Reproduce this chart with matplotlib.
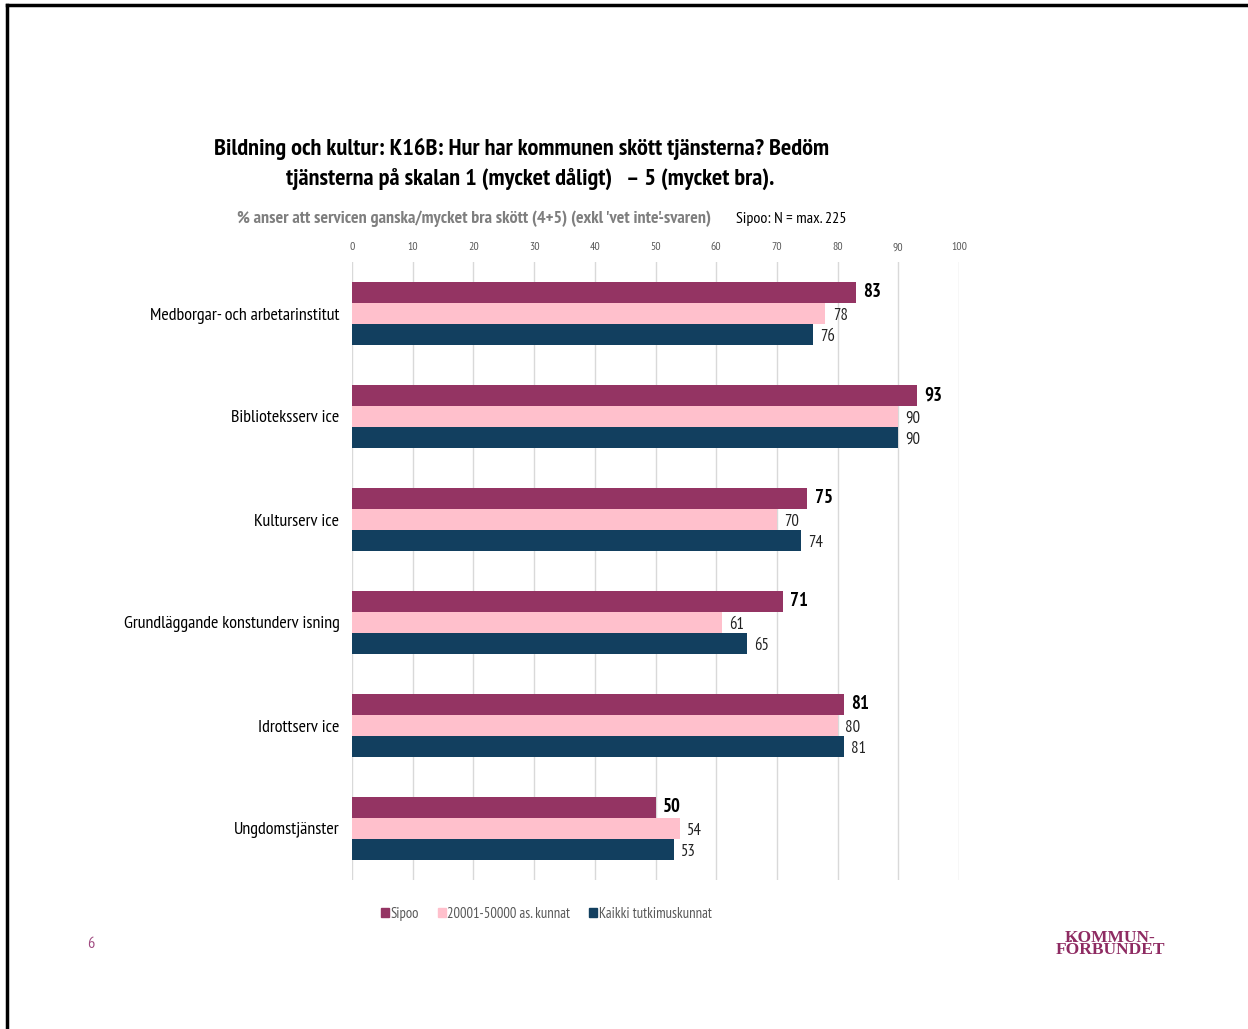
import matplotlib
matplotlib.use("Agg")
import matplotlib.pyplot as plt
from matplotlib.lines import Line2D
from matplotlib.patches import Rectangle
import numpy as np

plt.rcParams['font.family'] = ['PT Sans Narrow', 'DejaVu Sans']

categories = ["Medborgar- och arbetarinstitut", "Biblioteksserv ice", "Kulturserv ice",
              "Grundläggande konstunderv isning", "Idrottserv ice", "Ungdomstjänster"]
series_names = ["Sipoo", "20001-50000 as. kunnat", "Kaikki tutkimuskunnat"]
sipoo = [83, 93, 75, 71, 81, 50]
group = [78, 90, 70, 61, 80, 54]
kaikki = [76, 90, 74, 65, 81, 53]
ticks = [0, 10, 20, 30, 40, 50, 60, 70, 80, 90, 100]
colors = ["#943463", "#FFC0CC", "#123F5F"]

W, H = 1248, 1029
fig = plt.figure(figsize=(W / 100, H / 100), dpi=100)

# axes: x 352..959 px, y 262..880 px
ax = fig.add_axes([352 / W, 1 - 880 / H, (959 - 352) / W, (880 - 262) / H])
n = len(categories)
y = np.arange(n)
bh = 0.205
offs = [-bh, 0, bh]
data = [sipoo, group, kaikki]
for k, (vals, col) in enumerate(zip(data, colors)):
    ax.barh(y + offs[k], vals, height=bh, color=col, zorder=2,
            label=series_names[k])
    for yi, v in zip(y, vals):
        if k == 0:
            ax.text(v + 1.2, yi + offs[k], str(v), va='center', ha='left',
                    fontsize=13.5, fontweight='bold', color='black')
        else:
            ax.text(v + 1.2, yi + offs[k] + 0.02, str(v), va='center', ha='left',
                    fontsize=12, color='#222222')

ax.set_xlim(0, 100)
ax.set_ylim(n - 0.5, -0.5)
ax.set_xticks(ticks)
ax.xaxis.tick_top()
ax.tick_params(axis='x', length=0, labelsize=8.5, labelcolor='#595959', pad=7)
ax.set_yticks(y)
ax.set_yticklabels(categories, fontsize=13, color='black')
ax.tick_params(axis='y', length=0, pad=9)
ax.grid(axis='x', color='#D9D9D9', linewidth=1, zorder=0)
for s in ax.spines.values():
    s.set_visible(False)

# Title
fig.text(522 / W, 1 - 149 / H, "Bildning och kultur: K16B: Hur har kommunen skött tjänsterna? Bedöm",
         ha='center', va='center', fontsize=17.6, fontweight='bold')
fig.text(530 / W, 1 - 180 / H, "tjänsterna på skalan 1 (mycket dåligt)   – 5 (mycket bra).",
         ha='center', va='center', fontsize=17.6, fontweight='bold')

# subtitle
fig.text(237 / W, 1 - 219 / H, "% anser att servicen ganska/mycket bra skött (4+5) (exkl 'vet inte'-svaren)",
         ha='left', va='center', fontsize=13, fontweight='bold', color='#7F7F7F')
fig.text(736 / W, 1 - 219 / H, "Sipoo: N = max. 225",
         ha='left', va='center', fontsize=11.5, color='black')

# legend
handles = [Rectangle((0, 0), 1, 1, color=c) for c in colors]
fig.legend(handles, series_names, loc='center left', bbox_to_anchor=(368 / W, 1 - 914 / H),
           ncol=3, frameon=False, fontsize=10.5, handlelength=0.55, handleheight=0.55,
           handletextpad=0.1, columnspacing=1.3, labelcolor='#595959')

# page number and logo
fig.text(91 / W, 1 - 944 / H, "6", ha='center', va='center', fontsize=11.5, color='#A04A80')
fig.text(1110 / W, 1 - 944 / H, "KOMMUN-\nFÖRBUNDET", ha='center', va='center',
         fontsize=12.5, color='#8E2B62', family=['Liberation Serif', 'DejaVu Serif'],
         fontweight='bold', linespacing=0.75)

# page border
fig.add_artist(Line2D([7 / W, 1], [1 - 5 / H, 1 - 5 / H], color='black', linewidth=2.5,
                      transform=fig.transFigure))
fig.add_artist(Line2D([7 / W, 7 / W], [0, 1 - 5 / H], color='black', linewidth=2.5,
                      transform=fig.transFigure))

fig.savefig("out.png", dpi=100)
